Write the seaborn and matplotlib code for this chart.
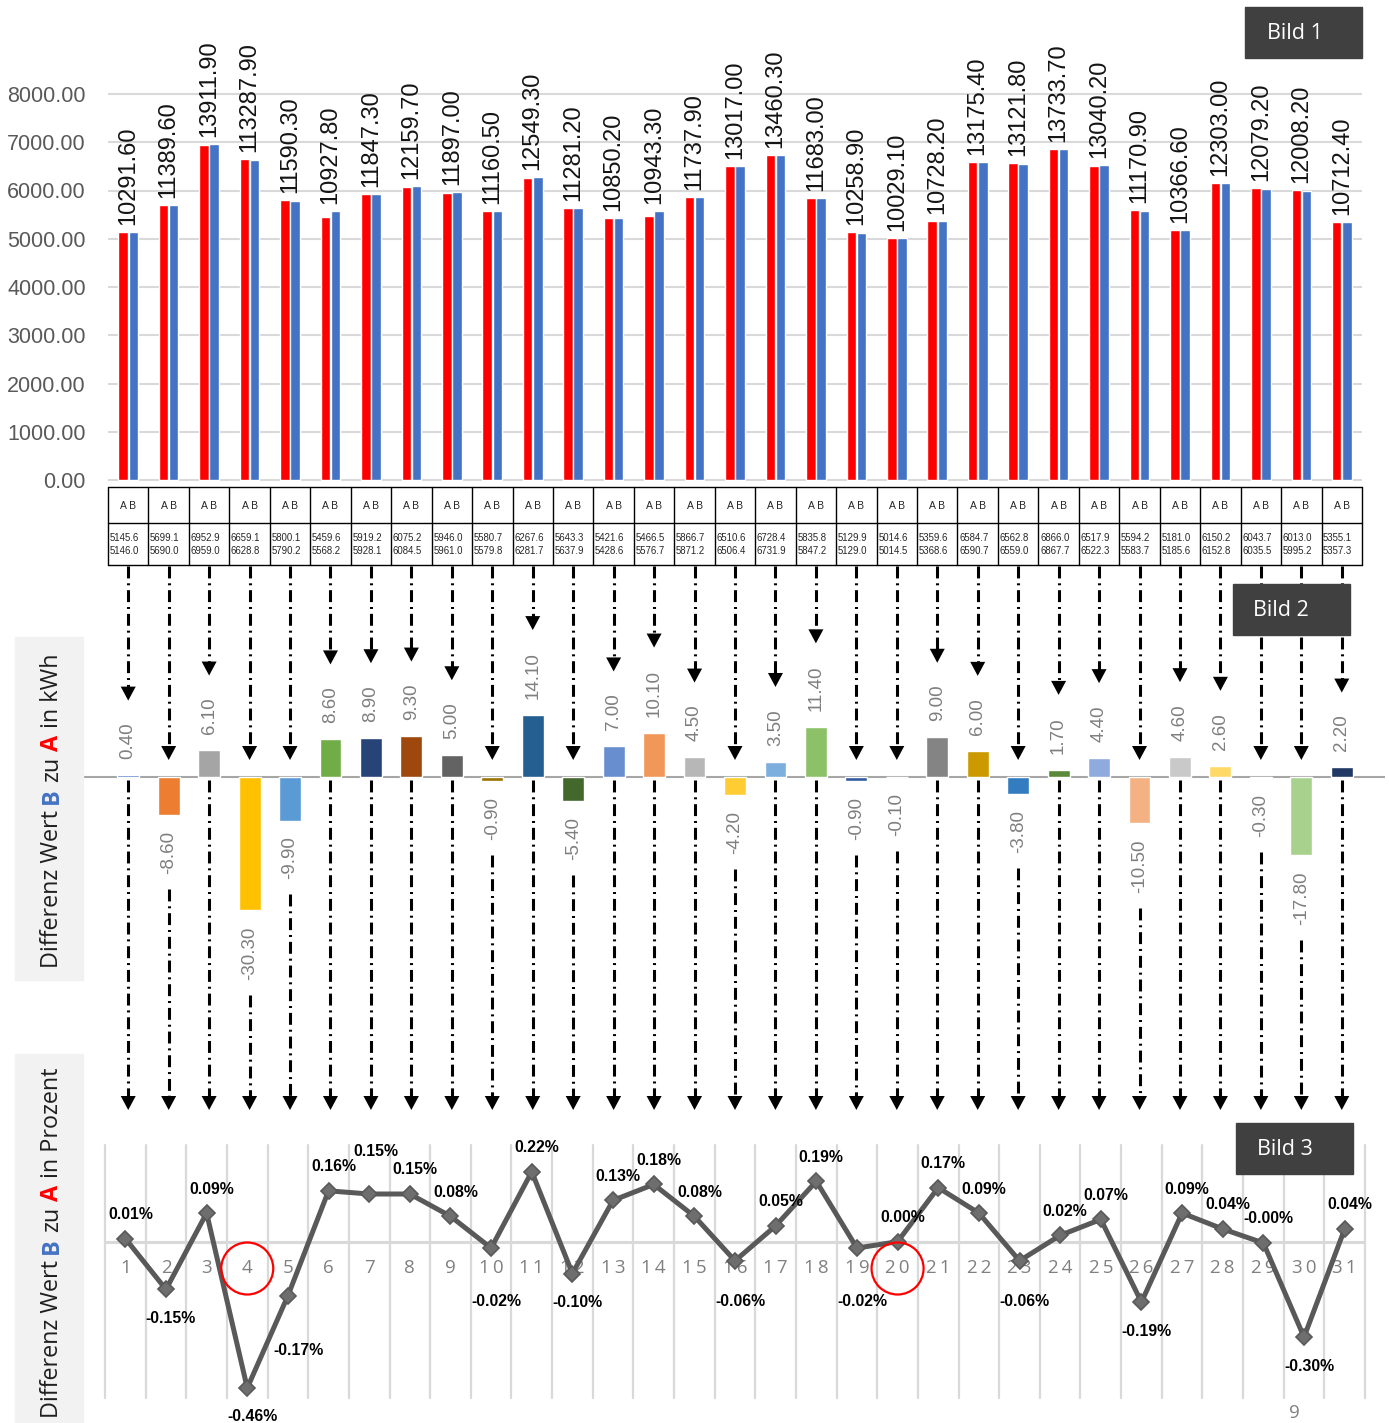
import numpy as np
import pandas as pd
import matplotlib
matplotlib.use("Agg")
import matplotlib.pyplot as plt
import seaborn as sns
from matplotlib.patches import Rectangle, Circle, Polygon

# ---------------------------------------------------------------- data
days = [str(i) for i in range(1, 32)]

wert_a = [5145.6, 5699.1, 6952.9, 6659.1, 5800.1, 5459.6, 5919.2, 6075.2, 5946.0, 5580.7,
          6267.6, 5643.3, 5421.6, 5466.5, 5866.7, 6510.6, 6728.4, 5835.8, 5129.9, 5014.6,
          5359.6, 6584.7, 6562.8, 6866.0, 6517.9, 5594.2, 5181.0, 6150.2, 6043.7, 6013.0,
          5355.1]
wert_b = [5146.0, 5690.0, 6959.0, 6628.8, 5790.2, 5568.2, 5928.1, 6084.5, 5961.0, 5579.8,
          6281.7, 5637.9, 5428.6, 5576.7, 5871.2, 6506.4, 6731.9, 5847.2, 5129.0, 5014.5,
          5368.6, 6590.7, 6559.0, 6867.7, 6522.3, 5583.7, 5185.6, 6152.8, 6035.5, 5995.2,
          5357.3]
summe = [10291.60, 11389.60, 13911.90, 113287.90, 11590.30, 10927.80, 11847.30, 12159.70,
         11897.00, 11160.50, 12549.30, 11281.20, 10850.20, 10943.30, 11737.90, 13017.00,
         13460.30, 11683.00, 10258.90, 10029.10, 10728.20, 13175.40, 13121.80, 13733.70,
         13040.20, 11170.90, 10366.60, 12303.00, 12079.20, 12008.20, 10712.40]
diff_kwh = [0.40, -8.60, 6.10, -30.30, -9.90, 8.60, 8.90, 9.30, 5.00, -0.90, 14.10, -5.40,
            7.00, 10.10, 4.50, -4.20, 3.50, 11.40, -0.90, -0.10, 9.00, 6.00, -3.80, 1.70,
            4.40, -10.50, 4.60, 2.60, -0.30, -17.80, 2.20]
diff_pct = [0.01, -0.15, 0.09, -0.46, -0.17, 0.16, 0.15, 0.15, 0.08, -0.02, 0.22, -0.10,
            0.13, 0.18, 0.08, -0.06, 0.05, 0.19, -0.02, 0.00, 0.17, 0.09, -0.06, 0.02,
            0.07, -0.19, 0.09, 0.04, -0.004, -0.30, 0.04]
bar_colors = ["#4472C4", "#ED7D31", "#A5A5A5", "#FFC000", "#5B9BD5", "#70AD47", "#264478",
              "#9E480E", "#636363", "#997300", "#255E91", "#43682B", "#698ED0", "#F1975A",
              "#B7B7B7", "#FFCD33", "#7CAFDD", "#8CC168", "#335AA1", "#D26012", "#848484",
              "#CC9A00", "#337CC0", "#5A8A39", "#8FAADC", "#F4B183", "#C9C9C9", "#FFD966",
              "#9DC3E6", "#A9D18E", "#203864"]
highlight_days = [4, 20]

# ---------------------------------------------------------------- layout
W, H = 1389, 1423
sns.set_theme(style="white")
plt.rcParams["font.family"] = ["Liberation Sans", "DejaVu Sans"]

fig = plt.figure(figsize=(W / 100, H / 100), dpi=100)


def rect(x0, y0, x1, y1):
    """Axes rectangle from pixel box (origin top-left)."""
    return [x0 / W, 1 - y1 / H, (x1 - x0) / W, (y1 - y0) / H]


N = len(days)
X0, X1 = 108, 1362
CW = (X1 - X0) / N

# ---------------------------------------------------------------- Bild 1
Z1, PX1 = 480.0, 386.0 / 8000.0
ax1 = fig.add_axes(rect(X0, 80, X1, 482))
df1 = pd.DataFrame({"Tag": days * 2, "Wert": wert_a + wert_b,
                    "Reihe": ["A"] * N + ["B"] * N})
sns.barplot(data=df1, x="Tag", y="Wert", hue="Reihe", order=days,
            palette=["#FF0000", "#4472C4"], width=0.5, gap=0.06, saturation=1,
            errorbar=None, legend=False, ax=ax1, zorder=2)
ax1.set_xlim(-0.5, N - 0.5)
ax1.set_ylim(-(482 - Z1) / PX1, (Z1 - 80) / PX1)
ax1.set_yticks(np.arange(0, 8001, 1000))
ax1.set_yticklabels([f"{v:.2f}" for v in np.arange(0, 8001, 1000)])
ax1.tick_params(axis="y", length=0, pad=16, labelsize=15.5, labelcolor="#595959")
ax1.set_xticks([])
ax1.set_xlabel("")
ax1.set_ylabel("")
for s in ax1.spines.values():
    s.set_visible(False)
ax1.yaxis.grid(True, color="#D9D9D9", lw=1.5)
ax1.set_axisbelow(True)
for i in range(N):
    top = max(wert_a[i], wert_b[i])
    ax1.text(i, top + 7 / PX1, f"{summe[i]:.2f}", rotation=90, ha="center", va="bottom",
             fontsize=17, color="#141414", clip_on=False)

# ---------------------------------------------------------------- table
axt = fig.add_axes(rect(X0, 487, X1, 565))
axt.set_xlim(-0.5, N - 0.5)
axt.set_ylim(565, 487)
axt.axis("off")
for k in range(N + 1):
    axt.plot([k - 0.5, k - 0.5], [487, 565], color="black", lw=1, clip_on=False)
for yy in (487, 523, 565):
    axt.plot([-0.5, N - 0.5], [yy, yy], color="black", lw=1, clip_on=False)
for i in range(N):
    axt.text(i, 506, "A B", ha="center", va="center", fontsize=7.5, color="#262626")
    axt.text(i - 0.46, 538, f"{wert_a[i]:.1f}", ha="left", va="center", fontsize=6.9,
             color="#262626")
    axt.text(i - 0.46, 551, f"{wert_b[i]:.1f}", ha="left", va="center", fontsize=6.9,
             color="#262626")

# ---------------------------------------------------------------- Bild 2
Z2, PX2 = 777.0, 4.4
ax2 = fig.add_axes(rect(83, 565, 1385, 1115))
sns.barplot(x=days, y=diff_kwh, hue=days, order=days, hue_order=days, palette=bar_colors,
            width=0.54, saturation=1, errorbar=None, legend=False, ax=ax2, zorder=2)
ax2.set_xlim((83 - X0) / CW - 0.5, (1385 - X0) / CW - 0.5)
ax2.set_ylim(-(1115 - Z2) / PX2, (Z2 - 565) / PX2)
ax2.axhline(0, color="#A6A6A6", lw=1.5, zorder=1)
ax2.axis("off")
kwh_labels = []
for i, v in enumerate(diff_kwh):
    if v >= 0:
        t = ax2.text(i, v + 16 / PX2, f"{v:.2f}", rotation=90, ha="center", va="bottom",
                     fontsize=13.5, color="#7F7F7F")
    else:
        t = ax2.text(i, v - 16 / PX2, f"{v:.2f}", rotation=90, ha="center", va="top",
                     fontsize=13.5, color="#7F7F7F")
    kwh_labels.append(t)

# ---------------------------------------------------------------- Bild 3
B3X0, B3X1 = 105, 1365
CW3 = (B3X1 - B3X0) / N
Z3, PX3 = 1241.7, 318.0
ax3 = fig.add_axes(rect(B3X0, 1145, B3X1, 1398))
ax3.set_xlim(-0.5, N - 0.5)
ax3.set_ylim(-(1398 - Z3) / PX3, (Z3 - 1145) / PX3)
ax3.axis("off")
for k in range(N + 1):
    ax3.axvline(k - 0.5, color="#D9D9D9", lw=1.6, zorder=0, clip_on=False)
ax3.axhline(0, color="#D9D9D9", lw=2.2, zorder=0)
tick_y = -(1268 - Z3) / PX3
for i, d in enumerate(days):
    ax3.text(i, tick_y, "\u2009".join(d) if len(d) > 1 else d, ha="center", va="center",
             fontsize=13.5, family=["Open Sans", "DejaVu Sans"], color="#808080", zorder=1)
sns.lineplot(x=np.arange(N), y=diff_pct, ax=ax3, color="#595959", linewidth=3.6,
             marker="D", markersize=8, markerfacecolor="#6E6E6E", markeredgecolor="#595959",
             markeredgewidth=1.2, zorder=3)
ax3.set_xlim(-0.5, N - 0.5)
ax3.set_ylim(-(1398 - Z3) / PX3, (Z3 - 1145) / PX3)
below_floor = -(1302 - Z3) / PX3
# extra label shifts (pixels: right, down) where labels would collide
label_nudge = {7: (2, -19), 5: (6, 26)}
for i, v in enumerate(diff_pct):
    if v > -0.01:
        yy = v + 24 / PX3
    else:
        yy = min(v - 29 / PX3, below_floor)
    nx, ny = label_nudge.get(i + 1, (0, 0))
    ax3.text(i + (5 + nx) / CW3, yy - ny / PX3, f"{v:.2f}%", ha="center", va="center",
             fontsize=11.4, fontweight="bold", color="black", zorder=4, clip_on=False)

# ---------------------------------------------------------------- overlay (pixel space)
ov = fig.add_axes([0, 0, 1, 1])
ov.set_xlim(0, W)
ov.set_ylim(H, 0)
ov.axis("off")
renderer = fig.canvas.get_renderer()

dash = (0, (3.9, 1.6, 0.65, 1.6))
AW, AH = 15, 14


def arrow_head(x, tip):
    ov.add_patch(Polygon([(x - AW / 2, tip - AH), (x + AW / 2, tip - AH), (x, tip)],
                         closed=True, color="black", lw=0, zorder=5))


for i, v in enumerate(diff_kwh):
    x = ax2.transData.transform((i, 0))[0]
    bb = kwh_labels[i].get_window_extent(renderer)
    if v >= 0:
        tip_up = (H - bb.y1) - 22
        low_start = Z2 + 3
    else:
        tip_up = Z2 - 17
        low_start = (H - bb.y0) + 15
    ov.plot([x, x], [566, tip_up - AH + 1], color="black", lw=2.2, ls=dash,
            dash_capstyle="butt", zorder=4)
    arrow_head(x, tip_up)
    ov.plot([x, x], [low_start, 1110 - AH + 1], color="black", lw=2.2, ls=dash,
            dash_capstyle="butt", zorder=4)
    arrow_head(x, 1110)

# red circles around highlighted days
for d in highlight_days:
    cx, cy = ax3.transData.transform((d - 1, tick_y))
    ov.add_patch(Circle((cx, H - cy + 0.5), 26, fill=False, ec="#FF0000", lw=1.6, zorder=6))

ov.text(1294, 1413, "9", ha="center", va="center", fontsize=13.5, family="Open Sans",
        color="#808080")

# "Bild" tags
for (bx0, by0, bx1, by1, tx, label) in [(1245, 7, 1362, 58, 1267, "Bild 1"),
                                        (1233, 584, 1350, 635, 1253, "Bild 2"),
                                        (1236, 1123, 1353, 1174, 1257, "Bild 3")]:
    ov.add_patch(Rectangle((bx0, by0), bx1 - bx0, by1 - by0, color="#404040", zorder=7))
    ov.text(tx, (by0 + by1) / 2 + 1, label, ha="left", va="center", fontsize=15.5,
            family="Open Sans", color="white", zorder=8)

# side captions with coloured letters
ov.add_patch(Rectangle((15, 637), 68, 343, color="#F2F2F2", zorder=1))
ov.add_patch(Rectangle((15, 1054), 68, 400, color="#F2F2F2", zorder=1))

CAP_SIZE = 16.8


def measure(s, weight="normal"):
    t = ov.text(0, 0, s, fontsize=CAP_SIZE, fontweight=weight, family="Open Sans")
    w = t.get_window_extent(renderer).width
    t.remove()
    return w


def vertical_caption(x_base, y_ref, pieces, anchor):
    space = measure("a a") - measure("aa")
    lens = [measure(s, w) for s, c, w in pieces]
    total = sum(lens) + space * (len(pieces) - 1)
    y = y_ref + total / 2 if anchor == "center" else y_ref + total
    for (s, c, w), L in zip(pieces, lens):
        ov.text(x_base, y, s, rotation=90, rotation_mode="anchor", ha="left",
                va="baseline", fontsize=CAP_SIZE, fontweight=w, family="Open Sans",
                color=c, zorder=2)
        y -= L + space


vertical_caption(58, 811, [("Differenz Wert", "#1F1F1F", "normal"), ("B", "#4472C4", "bold"),
                           ("zu", "#1F1F1F", "normal"), ("A", "#FF0000", "bold"),
                           ("in kWh", "#1F1F1F", "normal")], "center")
vertical_caption(58, 1068, [("Differenz Wert", "#1F1F1F", "normal"), ("B", "#4472C4", "bold"),
                            ("zu", "#1F1F1F", "normal"), ("A", "#FF0000", "bold"),
                            ("in Prozent", "#1F1F1F", "normal")], "top")

fig.savefig("out.png", dpi=100, facecolor="white")
